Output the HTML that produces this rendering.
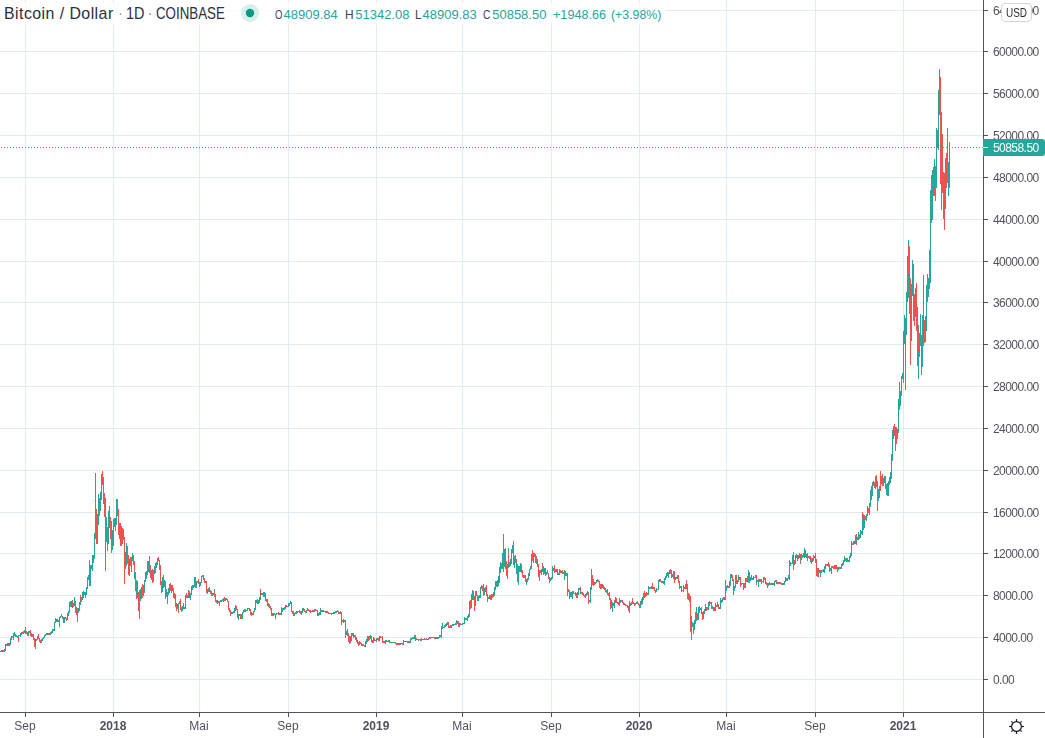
<!DOCTYPE html>
<html><head><meta charset="utf-8"><title>Bitcoin / Dollar</title>
<style>
html,body{margin:0;padding:0;background:#fff}
body{width:1045px;height:738px;position:relative;overflow:hidden;font-family:"Liberation Sans",sans-serif;color:#50535e}
.t{position:absolute;white-space:nowrap;line-height:1}
.p{left:993px;font-size:12px;letter-spacing:-0.55px;margin-top:1px;will-change:transform}
.x{top:720px;font-size:12px;width:60px;text-align:center;will-change:transform}
.b{font-weight:bold}
.lg{top:7.6px;font-size:13px;color:#26a69a}
.k{color:#434651}
</style></head><body>
<svg width="1045" height="738" viewBox="0 0 1045 738" style="position:absolute;left:0;top:0" shape-rendering="crispEdges">
<path d="M25.5 0V712M113.5 0V712M199.5 0V712M288.5 0V712M376.5 0V712M462.5 0V712M551.5 0V712M639.5 0V712M726.5 0V712M815.5 0V712M903.5 0V712M0 679.5H983M0 637.5H983M0 595.5H983M0 553.5H983M0 512.5H983M0 470.5H983M0 428.5H983M0 386.5H983M0 344.5H983M0 302.5H983M0 261.5H983M0 219.5H983M0 177.5H983M0 135.5H983M0 93.5H983M0 51.5H983M0 10.5H983" stroke="#e1ecf2" stroke-width="1" fill="none"/>
<path d="M0.5 651v1M1.5 650v2M3.5 650v2M4.5 649v3M5.5 644v7M6.5 644v2M7.5 643v3M9.5 643v3M10.5 638v7M11.5 636v4M12.5 636v2M13.5 633v7M14.5 632v4M16.5 635v2M18.5 635v3M19.5 635v1M20.5 633v4M21.5 632v3M23.5 631v3M24.5 630v3M28.5 631v5M29.5 631v2M35.5 639v10M36.5 639v2M37.5 636v4M41.5 639v4M42.5 638v3M43.5 637v2M44.5 635v3M45.5 634v2M46.5 633v2M47.5 633v2M50.5 632v3M51.5 631v3M52.5 629v4M54.5 622v9M55.5 618v5M56.5 619v2M58.5 620v2M59.5 617v5M60.5 616v2M61.5 614v3M62.5 617v2M64.5 617v6M67.5 613v7M68.5 611v5M69.5 602v11M70.5 601v6M71.5 601v6M72.5 600v1M73.5 603v4M74.5 597v9M77.5 608v11M78.5 608v5M79.5 602v9M80.5 601v4M81.5 597v5M82.5 592v8M84.5 592v3M85.5 592v6M86.5 587v8M87.5 577v12M88.5 575v5M90.5 565v21M92.5 555v16M93.5 555v8M94.5 533v26M95.5 473v25M95.5 535v4M97.5 514v30M98.5 494v31M100.5 492v19M101.5 474v26M106.5 517v25M108.5 511v33M111.5 521v5M112.5 530v20M113.5 519v26M114.5 518v9M115.5 518v13M116.5 499v26M119.5 523v16M121.5 526v20M125.5 552v17M126.5 543v23M129.5 559v17M131.5 558v9M132.5 553v8M134.5 571v8M136.5 580v15M139.5 605v14M140.5 589v12M141.5 587v12M143.5 585v11M144.5 580v11M145.5 572v10M146.5 571v8M147.5 574v1M148.5 561v11M149.5 556v5M151.5 570v10M153.5 570v12M154.5 566v8M155.5 563v10M156.5 562v6M157.5 558v7M162.5 577v15M164.5 580v7M165.5 591v8M166.5 589v8M167.5 592v12M168.5 588v7M169.5 584v9M170.5 583v1M171.5 585v8M175.5 594v2M177.5 604v5M178.5 603v7M179.5 601v3M182.5 606v5M184.5 607v2M185.5 595v14M187.5 595v3M188.5 590v1M188.5 596v2M190.5 593v7M191.5 586v9M192.5 585v5M193.5 586v1M194.5 577v10M196.5 581v7M200.5 582v4M201.5 576v7M202.5 575v2M205.5 581v2M207.5 589v5M208.5 588v4M209.5 587v1M212.5 593v3M214.5 589v2M216.5 601v2M219.5 601v5M220.5 600v2M221.5 600v2M222.5 599v2M223.5 598v4M225.5 598v3M226.5 598v2M231.5 612v2M232.5 612v2M233.5 611v2M234.5 608v5M235.5 605v6M237.5 615v2M238.5 614v6M242.5 612v7M243.5 610v3M244.5 609v3M246.5 610v1M247.5 608v3M248.5 608v1M251.5 612v4M253.5 611v4M254.5 608v4M255.5 600v10M256.5 600v3M258.5 600v4M259.5 597v6M260.5 596v4M262.5 593v2M264.5 592v5M268.5 605v2M273.5 613v3M274.5 613v2M276.5 613v2M280.5 613v2M281.5 607v8M282.5 608v4M283.5 608v2M284.5 607v3M285.5 605v4M288.5 603v4M289.5 603v3M290.5 601v3M294.5 613v3M295.5 612v2M296.5 611v3M297.5 611v2M298.5 611v1M301.5 611v4M302.5 608v5M306.5 610v3M307.5 608v1M311.5 611v1M313.5 610v2M314.5 609v3M317.5 614v1M318.5 613v3M319.5 612v3M320.5 608v2M320.5 611v4M321.5 610v2M322.5 610v2M324.5 611v1M331.5 613v2M332.5 613v1M333.5 612v2M334.5 612v2M335.5 611v2M336.5 611v2M339.5 612v2M343.5 622v1M344.5 620v2M346.5 631v4M349.5 636v8M351.5 633v8M352.5 633v3M353.5 635v3M358.5 643v1M359.5 641v4M364.5 645v2M365.5 641v6M366.5 639v5M367.5 636v6M369.5 636v1M369.5 639v1M370.5 635v4M373.5 637v6M376.5 638v4M377.5 638v2M379.5 636v5M381.5 637v1M385.5 640v4M386.5 640v2M388.5 640v2M390.5 642v1M392.5 642v1M394.5 642v1M397.5 643v2M399.5 643v2M400.5 643v2M401.5 643v1M403.5 640v5M405.5 641v1M406.5 641v1M409.5 641v2M410.5 638v5M411.5 638v2M412.5 637v2M414.5 635v4M415.5 639v2M418.5 639v2M421.5 638v3M423.5 639v1M425.5 639v1M427.5 639v1M428.5 638v2M429.5 637v2M431.5 637v1M436.5 637v2M437.5 637v2M438.5 637v2M439.5 635v3M440.5 635v2M441.5 626v11M442.5 623v6M443.5 627v1M444.5 625v3M445.5 624v3M446.5 623v3M449.5 626v2M451.5 625v3M452.5 624v2M453.5 624v2M454.5 624v1M456.5 620v5M459.5 623v4M461.5 624v1M462.5 623v2M463.5 623v1M464.5 617v7M466.5 618v2M467.5 617v3M468.5 614v4M469.5 601v16M471.5 594v14M472.5 590v10M475.5 591v15M478.5 596v5M479.5 595v3M480.5 587v11M481.5 585v4M484.5 588v7M485.5 587v5M487.5 596v5M488.5 597v2M489.5 595v4M491.5 594v6M493.5 592v5M494.5 587v9M495.5 581v9M496.5 581v6M498.5 576v10M499.5 567v16M500.5 562v11M501.5 563v6M502.5 553v16M503.5 534v5M504.5 549v18M507.5 564v15M508.5 548v5M508.5 564v4M510.5 559v7M511.5 549v15M512.5 545v8M514.5 556v12M516.5 562v12M518.5 566v19M520.5 563v9M523.5 575v3M526.5 581v4M527.5 578v4M528.5 573v7M529.5 569v7M530.5 566v4M531.5 554v15M533.5 553v10M536.5 556v1M536.5 561v3M539.5 570v11M541.5 569v6M542.5 563v1M542.5 568v4M544.5 568v6M546.5 572v3M549.5 578v3M550.5 578v3M551.5 577v3M552.5 566v13M555.5 569v3M558.5 573v2M559.5 569v6M561.5 571v2M564.5 570v10M566.5 573v3M570.5 592v5M572.5 591v8M573.5 591v1M577.5 592v6M578.5 588v7M579.5 588v2M580.5 591v3M585.5 594v4M586.5 593v3M590.5 587v16M591.5 569v21M593.5 585v1M595.5 582v2M596.5 580v3M601.5 584v5M606.5 590v3M612.5 602v10M613.5 603v3M614.5 602v6M615.5 597v6M619.5 601v5M620.5 600v3M621.5 600v2M629.5 601v2M629.5 606v7M630.5 603v3M631.5 602v3M635.5 603v2M636.5 602v2M640.5 601v7M641.5 599v6M642.5 597v6M643.5 593v7M645.5 593v4M648.5 586v9M650.5 587v2M651.5 586v3M653.5 587v2M655.5 590v2M656.5 588v4M658.5 580v10M659.5 579v3M662.5 581v2M664.5 578v7M665.5 576v4M666.5 573v5M667.5 572v4M668.5 572v6M669.5 570v4M672.5 574v3M673.5 571v8M675.5 577v3M676.5 577v2M677.5 575v4M680.5 586v2M683.5 589v3M685.5 584v5M689.5 594v8M691.5 616v3M691.5 627v13M692.5 622v5M694.5 620v10M695.5 612v12M696.5 607v6M696.5 618v3M698.5 607v13M699.5 606v2M700.5 608v2M703.5 611v8M704.5 609v5M705.5 604v7M708.5 602v8M709.5 601v4M712.5 606v3M715.5 603v8M717.5 606v1M719.5 607v2M720.5 598v11M721.5 600v3M722.5 598v4M723.5 597v3M725.5 592v8M726.5 586v5M729.5 581v7M730.5 574v12M734.5 586v5M735.5 575v13M737.5 580v4M738.5 575v7M739.5 577v3M741.5 583v2M742.5 583v1M743.5 585v5M745.5 578v10M747.5 576v6M748.5 570v13M750.5 577v4M752.5 578v2M753.5 576v4M754.5 577v1M755.5 575v3M756.5 579v4M757.5 580v2M758.5 580v7M759.5 579v3M762.5 581v1M763.5 577v6M768.5 583v3M772.5 583v2M774.5 581v5M775.5 580v2M776.5 582v1M782.5 584v1M784.5 581v4M785.5 577v5M786.5 578v3M787.5 578v3M788.5 575v4M789.5 560v3M789.5 567v13M790.5 562v4M791.5 563v1M792.5 555v9M794.5 564v1M795.5 555v9M796.5 554v4M797.5 555v6M799.5 553v5M800.5 558v3M801.5 554v6M802.5 555v3M803.5 553v4M804.5 548v10M806.5 554v4M807.5 557v2M809.5 556v3M810.5 559v3M812.5 561v1M813.5 555v6M815.5 553v1M817.5 568v9M818.5 572v2M819.5 570v3M820.5 571v4M821.5 570v3M822.5 570v2M823.5 569v1M824.5 566v7M825.5 564v5M827.5 564v2M830.5 568v3M831.5 566v7M833.5 566v3M835.5 565v4M838.5 567v3M841.5 564v5M842.5 563v3M843.5 560v5M844.5 556v6M846.5 558v4M848.5 560v2M849.5 556v6M850.5 553v5M851.5 541v15M853.5 541v4M854.5 542v2M855.5 535v9M856.5 538v4M857.5 537v3M858.5 532v8M860.5 530v8M861.5 531v3M862.5 518v17M864.5 520v8M866.5 514v7M867.5 506v10M869.5 503v10M870.5 490v17M871.5 486v14M872.5 482v14M873.5 481v5M875.5 476v13M878.5 489v12M879.5 486v12M881.5 476v8M883.5 478v8M884.5 476v7M886.5 484v11M888.5 481v15M889.5 477v8M890.5 472v11M891.5 454v25M892.5 430v31M893.5 426v13M895.5 428v16M897.5 429v10M898.5 399v34M900.5 391v15M901.5 376v20M902.5 373v6M903.5 331v52M904.5 315v29M905.5 318v49M906.5 292v43M907.5 256v46M908.5 240v6M908.5 274v24M911.5 284v57M912.5 260v36M915.5 288v29M918.5 325v4M918.5 352v27M919.5 333v24M920.5 314v32M921.5 335v4M922.5 315v52M923.5 275v71M925.5 316v26M926.5 285v46M928.5 278v19M929.5 250v13M930.5 190v93M931.5 175v9M932.5 170v50M934.5 159v29M936.5 128v60M938.5 90v60M939.5 69v46M945.5 158v51M947.5 128v9M948.5 162v34M949.5 142v46" stroke="#26a69a" stroke-width="1" fill="none"/>
<path d="M2.5 650v2M8.5 643v3M15.5 634v3M17.5 636v2M18.5 638v4M22.5 632v2M25.5 627v7M26.5 631v3M27.5 632v4M30.5 630v6M31.5 633v4M32.5 634v3M33.5 634v6M34.5 638v9M38.5 634v5M39.5 638v4M40.5 640v3M48.5 633v2M49.5 633v2M53.5 629v2M56.5 621v1M57.5 619v3M59.5 622v5M62.5 616v1M63.5 617v6M65.5 617v2M66.5 618v3M72.5 601v7M75.5 601v12M76.5 607v8M77.5 619v3M80.5 595v6M83.5 591v7M89.5 560v26M91.5 565v4M95.5 498v37M96.5 509v35M99.5 498v18M102.5 471v14M103.5 477v27M104.5 493v24M105.5 498v73M107.5 527v24M109.5 506v22M110.5 517v22M111.5 526v27M113.5 545v1M117.5 499v17M118.5 509v26M120.5 523v23M122.5 528v16M123.5 529v11M124.5 537v47M127.5 546v18M128.5 555v20M130.5 557v9M131.5 557v1M131.5 567v5M133.5 555v10M134.5 561v10M135.5 572v19M136.5 595v4M137.5 581v17M138.5 592v19M139.5 590v15M142.5 584v14M144.5 591v2M147.5 561v13M149.5 561v12M150.5 565v13M152.5 569v14M158.5 557v4M159.5 560v10M160.5 565v20M161.5 581v12M163.5 575v13M165.5 581v10M170.5 584v7M172.5 585v6M173.5 588v10M174.5 593v6M175.5 596v11M176.5 603v8M178.5 610v3M180.5 599v11M181.5 607v5M183.5 603v6M186.5 593v5M188.5 591v5M189.5 591v7M193.5 585v1M193.5 587v1M195.5 577v11M197.5 581v2M198.5 579v5M199.5 582v5M203.5 575v5M204.5 578v5M206.5 581v12M209.5 588v4M210.5 590v4M211.5 591v5M213.5 593v2M214.5 591v6M215.5 594v8M216.5 600v1M217.5 600v4M218.5 601v2M224.5 597v4M227.5 599v3M228.5 601v9M229.5 608v4M230.5 610v6M236.5 606v4M237.5 609v6M237.5 617v1M239.5 614v2M240.5 614v5M241.5 614v5M245.5 609v3M249.5 608v3M250.5 609v6M252.5 613v2M257.5 599v5M260.5 589v7M261.5 593v2M263.5 592v5M265.5 593v8M266.5 599v3M267.5 599v7M268.5 603v2M269.5 604v4M270.5 606v4M271.5 608v8M272.5 613v3M275.5 614v5M277.5 613v1M278.5 612v3M279.5 613v2M286.5 605v2M287.5 606v1M291.5 602v10M292.5 611v3M293.5 611v5M299.5 610v3M300.5 611v3M303.5 608v3M304.5 609v3M305.5 611v2M307.5 609v2M308.5 609v2M309.5 610v2M310.5 610v3M312.5 610v2M315.5 609v2M316.5 610v1M317.5 610v4M317.5 615v1M320.5 610v1M323.5 610v2M325.5 611v2M326.5 611v2M327.5 611v2M328.5 612v2M329.5 613v1M330.5 613v1M337.5 610v2M338.5 611v3M340.5 611v3M341.5 612v13M342.5 620v2M343.5 619v3M345.5 620v18M347.5 629v7M348.5 633v9M350.5 636v7M353.5 633v2M354.5 635v2M355.5 635v5M356.5 637v5M357.5 640v4M358.5 642v1M358.5 644v2M360.5 642v2M361.5 643v3M362.5 644v2M363.5 644v2M368.5 636v5M369.5 637v2M371.5 636v6M372.5 640v3M374.5 638v3M375.5 640v1M378.5 638v3M380.5 636v2M382.5 636v7M383.5 641v2M384.5 641v2M387.5 641v1M389.5 640v3M391.5 642v1M393.5 642v1M395.5 642v2M396.5 643v2M398.5 643v2M402.5 643v2M404.5 641v1M407.5 641v2M408.5 641v2M413.5 637v2M415.5 635v4M416.5 638v2M417.5 639v1M419.5 639v1M420.5 639v2M422.5 639v1M424.5 638v2M426.5 638v2M430.5 637v2M432.5 637v1M433.5 637v1M434.5 637v2M435.5 637v2M441.5 637v1M447.5 622v3M448.5 622v6M450.5 625v3M455.5 623v2M457.5 621v3M458.5 621v6M460.5 623v2M465.5 618v2M467.5 616v1M467.5 620v1M470.5 600v9M473.5 591v9M474.5 596v15M476.5 591v5M477.5 595v6M482.5 586v5M483.5 584v12M486.5 585v11M487.5 594v2M487.5 601v1M490.5 595v5M492.5 594v4M497.5 580v7M503.5 539v33M505.5 548v21M506.5 561v15M508.5 553v11M509.5 562v5M513.5 541v24M515.5 555v8M516.5 559v3M517.5 564v18M519.5 566v6M521.5 564v9M522.5 570v7M524.5 575v3M525.5 575v7M526.5 579v2M532.5 550v11M534.5 553v4M535.5 554v9M536.5 557v4M537.5 559v8M538.5 564v13M540.5 570v3M542.5 564v4M543.5 566v9M545.5 568v8M547.5 570v4M548.5 573v6M549.5 577v1M549.5 581v2M553.5 568v3M554.5 565v8M556.5 569v3M557.5 569v6M560.5 570v3M562.5 570v4M563.5 572v2M565.5 571v5M567.5 573v23M568.5 589v3M569.5 590v9M571.5 592v5M573.5 592v2M574.5 593v1M575.5 592v4M576.5 593v5M580.5 587v4M581.5 592v2M582.5 592v3M583.5 593v3M584.5 595v2M587.5 591v4M588.5 592v12M589.5 600v2M592.5 575v10M593.5 579v6M594.5 582v3M597.5 579v3M598.5 580v2M599.5 581v7M600.5 584v5M602.5 584v4M603.5 585v4M604.5 587v3M605.5 588v4M607.5 589v6M608.5 593v3M609.5 592v8M610.5 598v11M611.5 600v8M614.5 600v2M616.5 598v5M617.5 602v2M618.5 602v3M619.5 598v3M622.5 600v3M623.5 602v3M624.5 603v2M625.5 604v2M626.5 605v1M627.5 605v3M628.5 606v5M629.5 603v3M632.5 598v6M633.5 602v2M634.5 603v3M637.5 601v3M638.5 603v2M639.5 604v4M642.5 603v1M644.5 591v7M646.5 592v4M647.5 593v2M649.5 587v2M652.5 583v6M654.5 587v4M655.5 592v1M657.5 589v1M660.5 579v3M661.5 581v2M663.5 581v3M670.5 569v5M671.5 570v8M674.5 571v12M678.5 575v8M679.5 581v8M681.5 586v6M682.5 590v1M683.5 585v4M684.5 587v2M686.5 580v9M687.5 584v15M688.5 593v7M690.5 596v36M691.5 619v8M693.5 623v11M696.5 613v5M697.5 613v7M699.5 608v5M701.5 607v7M702.5 612v8M706.5 607v4M707.5 607v3M709.5 605v1M710.5 602v2M711.5 602v7M713.5 607v4M714.5 607v4M716.5 605v2M717.5 602v4M718.5 604v5M724.5 597v3M725.5 580v12M727.5 585v3M728.5 586v2M731.5 574v4M732.5 575v6M733.5 579v16M736.5 575v9M740.5 577v10M743.5 583v2M744.5 583v5M746.5 578v4M749.5 572v11M751.5 575v5M756.5 575v4M756.5 583v2M758.5 579v1M760.5 579v3M761.5 579v5M764.5 577v3M765.5 578v6M766.5 582v3M767.5 583v5M769.5 582v3M770.5 583v2M771.5 583v2M773.5 583v2M776.5 580v2M776.5 583v1M777.5 582v2M778.5 582v2M779.5 582v2M780.5 582v2M781.5 583v2M782.5 583v1M783.5 583v2M789.5 563v4M793.5 552v18M794.5 560v4M798.5 555v4M800.5 554v4M800.5 561v3M805.5 550v7M807.5 553v4M807.5 559v2M808.5 556v2M810.5 556v3M811.5 558v6M812.5 558v3M814.5 556v2M815.5 554v9M816.5 559v17M818.5 568v4M818.5 574v3M820.5 570v1M820.5 575v2M823.5 570v2M826.5 564v2M828.5 562v5M829.5 564v8M831.5 573v1M832.5 566v2M834.5 565v4M836.5 565v4M837.5 567v5M839.5 567v2M840.5 567v2M845.5 558v3M847.5 558v4M852.5 543v2M854.5 541v1M856.5 534v4M856.5 542v3M859.5 534v5M862.5 512v6M863.5 514v16M864.5 515v5M865.5 516v4M868.5 508v5M869.5 513v2M874.5 482v6M876.5 475v12M877.5 481v30M880.5 471v20M882.5 474v12M885.5 476v13M887.5 483v13M894.5 424v12M895.5 427v1M895.5 444v7M896.5 427v17M899.5 382v28M905.5 367v23M908.5 246v28M909.5 246v68M910.5 278v87M913.5 264v57M914.5 294v32M916.5 283v48M917.5 307v59M918.5 329v23M921.5 339v36M924.5 320v23M927.5 274v28M929.5 263v26M931.5 184v39M933.5 167v29M934.5 188v8M935.5 166v35M937.5 130v18M940.5 77v107M941.5 112v98M942.5 134v59M943.5 172v47M944.5 173v57M946.5 153v35M947.5 137v46" stroke="#ef5350" stroke-width="1" fill="none"/>
<path d="M1 147.5H983" stroke="#26a69a" stroke-width="1" stroke-dasharray="1 2" fill="none"/>
<rect x="0" y="2" width="666" height="23" fill="#fff" fill-opacity="0.75"/>
<path d="M983.5 0V738M0 712.5H1045M984 679.5h4M984 637.5h4M984 595.5h4M984 553.5h4M984 512.5h4M984 470.5h4M984 428.5h4M984 386.5h4M984 344.5h4M984 302.5h4M984 261.5h4M984 219.5h4M984 177.5h4M984 135.5h4M984 93.5h4M984 51.5h4M984 10.5h4M25.5 713v4M113.5 713v4M199.5 713v4M288.5 713v4M376.5 713v4M462.5 713v4M551.5 713v4M639.5 713v4M726.5 713v4M815.5 713v4M903.5 713v4" stroke="#50535e" stroke-width="1" fill="none"/>
<g shape-rendering="auto"><circle cx="250" cy="13" r="9" fill="#26a69a" fill-opacity="0.18"/><circle cx="250" cy="13" r="4.2" fill="#089981"/></g>
<g shape-rendering="auto" stroke="#131722" fill="none" stroke-width="1.2"><circle cx="1016.5" cy="726.5" r="4.9"/><path d="M1021.70 726.50L1023.90 726.50"/><path d="M1020.46 730.46L1021.59 731.59"/><path d="M1016.50 731.70L1016.50 733.90"/><path d="M1012.54 730.46L1011.41 731.59"/><path d="M1011.30 726.50L1009.10 726.50"/><path d="M1012.54 722.54L1011.41 721.41"/><path d="M1016.50 721.30L1016.50 719.10"/><path d="M1020.46 722.54L1021.59 721.41"/></g>
</svg>
<div class="t p" style="top:673px">0.00</div>
<div class="t p" style="top:631px">4000.00</div>
<div class="t p" style="top:589px">8000.00</div>
<div class="t p" style="top:547px">12000.00</div>
<div class="t p" style="top:506px">16000.00</div>
<div class="t p" style="top:464px">20000.00</div>
<div class="t p" style="top:422px">24000.00</div>
<div class="t p" style="top:380px">28000.00</div>
<div class="t p" style="top:338px">32000.00</div>
<div class="t p" style="top:296px">36000.00</div>
<div class="t p" style="top:255px">40000.00</div>
<div class="t p" style="top:213px">44000.00</div>
<div class="t p" style="top:171px">48000.00</div>
<div class="t p" style="top:129px">52000.00</div>
<div class="t p" style="top:87px">56000.00</div>
<div class="t p" style="top:45px">60000.00</div>
<div class="t p" style="top:4px">64000.00</div>
<div style="position:absolute;left:1001px;top:3px;width:29px;height:17px;background:#fff;border:1px solid #d1d4dc;border-radius:4px"></div>
<div style="position:absolute;left:983px;top:139px;width:62px;height:17px;background:#26a69a;border-radius:0 3px 3px 0"></div>
<div style="position:absolute;left:983px;top:147px;width:5px;height:1px;background:#fff"></div>
<div class="t p" style="top:141px;color:#fff">50858.50</div>
<div class="t" style="left:1000.9px;top:6.6px;width:31px;text-align:center;font-size:12.5px;transform:scaleX(0.8);color:#2a2e39">USD</div>
<div class="t x" style="left:-5px">Sep</div>
<div class="t x b" style="left:83px">2018</div>
<div class="t x" style="left:169px">Mai</div>
<div class="t x" style="left:258px">Sep</div>
<div class="t x b" style="left:346px">2019</div>
<div class="t x" style="left:432px">Mai</div>
<div class="t x" style="left:521px">Sep</div>
<div class="t x b" style="left:609px">2020</div>
<div class="t x" style="left:696px">Mai</div>
<div class="t x" style="left:785px">Sep</div>
<div class="t x b" style="left:873px">2021</div>
<div class="t" style="left:3.7px;top:6.2px;font-size:15px;color:#2b2f3b;letter-spacing:0.42px;transform-origin:0 50%;transform:scale(1.06,1.06)">Bitcoin / Dollar</div>
<div class="t" style="left:118px;top:6.2px;font-size:15px;color:#9598a1;letter-spacing:0px;transform-origin:0 50%;transform:scale(1.0,1.06)">·</div>
<div class="t" style="left:126px;top:6.2px;font-size:15px;color:#2b2f3b;letter-spacing:0px;transform-origin:0 50%;transform:scale(0.965,1.06)">1D</div>
<div class="t" style="left:147.5px;top:6.2px;font-size:15px;color:#9598a1;letter-spacing:0px;transform-origin:0 50%;transform:scale(1.0,1.06)">·</div>
<div class="t" style="left:155.7px;top:6.2px;font-size:15px;color:#2b2f3b;letter-spacing:0px;transform-origin:0 50%;transform:scale(0.887,1.06)">COINBASE</div>
<div class="t lg k" style="left:275.3px;transform-origin:0 50%;transform:scaleX(0.74)">O</div>
<div class="t lg " style="left:283.6px">48909.84</div>
<div class="t lg k" style="left:345px;transform-origin:0 50%;transform:scaleX(0.92)">H</div>
<div class="t lg " style="left:355.3px">51342.08</div>
<div class="t lg k" style="left:415.2px;transform-origin:0 50%;transform:scaleX(0.9)">L</div>
<div class="t lg " style="left:422.6px">48909.83</div>
<div class="t lg k" style="left:483.2px;transform-origin:0 50%;transform:scaleX(0.78)">C</div>
<div class="t lg " style="left:492.2px">50858.50</div>
<div class="t lg " style="left:552.8px;transform-origin:0 50%;transform:scaleX(0.97)">+1948.66</div>
<div class="t lg " style="left:610.5px;transform-origin:0 50%;transform:scaleX(0.95)">(+3.98%)</div>
</body></html>
